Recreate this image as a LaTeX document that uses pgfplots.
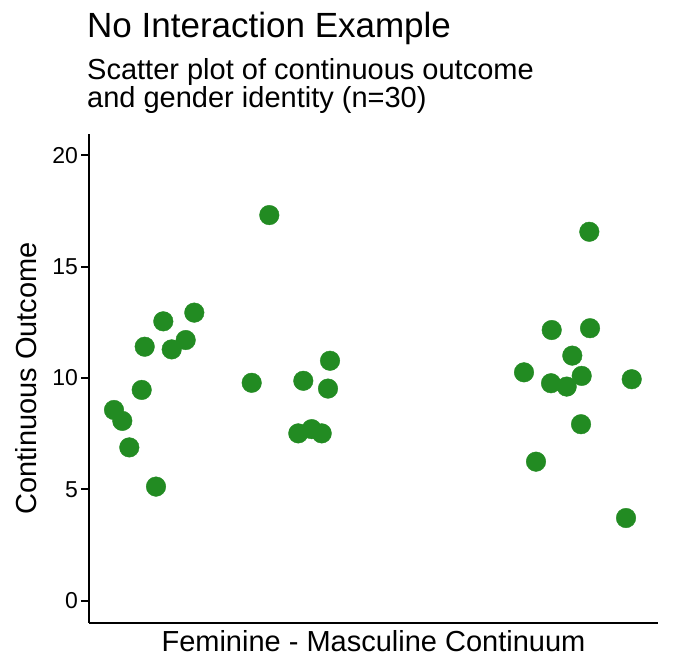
\documentclass[border=0pt]{standalone}
\usepackage{pgfplots}
\pgfplotsset{compat=1.18}
\usepackage{fontspec}
\setmainfont{Liberation Sans}
\definecolor{pointgreen}{HTML}{228B22}

% outcome values; x is jittered position along the continuum
\pgfplotstableread{
x      y
25.0   8.56
33.3   8.07
40.3   6.88
52.7   9.46
55.7   11.40
67.0   5.12
74.3   12.54
82.7   11.28
96.7   11.70
105.3  12.93
162.7  9.78
180.3  17.31
209.3  7.51
214.3  9.87
222.7  7.70
232.7  7.51
239.0  9.52
241.0  10.77
435.0  10.25
447.0  6.24
462.7  12.15
462.0  9.76
477.7  9.61
483.3  11.00
492.0  7.92
492.7  10.09
500.3  16.56
501.0  12.23
537.0  3.71
542.7  9.94
}\scatterdata

\begin{document}
\begin{tikzpicture}[x=1pt,y=1pt]
\useasboundingbox (0,0) rectangle (672,672);
\begin{axis}[
    at={(89pt,49.3pt)}, anchor=south west,
    scale only axis,
    width=569pt, height=488.7pt,
    xmin=0, xmax=569,
    ymin=-0.99, ymax=20.95,
    axis x line*=bottom, axis y line*=left,
    axis line style={black, line width=2.1pt},
    xtick=\empty,
    ytick={0,5,10,15,20},
    tick align=outside,
    major tick length=7.6pt,
    every tick/.style={black, line width=2pt},
    tick label style={font=\fontsize{23}{27}\selectfont, black},
    /pgf/number format/assume math mode=true,
    xlabel={Feminine - Masculine Continuum},
    ylabel={Continuous Outcome},
    label style={font=\fontsize{29}{34}\selectfont},
    xlabel style={at={(axis description cs:0.5,0)}, anchor=base, yshift=-29pt},
    ylabel style={at={(axis description cs:-0.0931,0.5)}, anchor=base},
    clip=false,
]
\addplot[only marks, color=pointgreen, mark=*, mark size=9.8pt,
    mark options={fill=pointgreen, draw=pointgreen, line width=0.4pt}]
    table[x=x, y=y] {\scatterdata};
\end{axis}
\node[anchor=base west, inner sep=0, font=\fontsize{35}{42}\selectfont]
    at (87,634) {No Interaction Example};
% base anchor of a two-line node sits on the last line
\node[anchor=base west, inner sep=0, align=left,
    font=\fontsize{29}{25.6}\selectfont]
    at (87,564.7) {Scatter plot of continuous outcome\\and gender identity (n=30)};
\end{tikzpicture}
\end{document}
